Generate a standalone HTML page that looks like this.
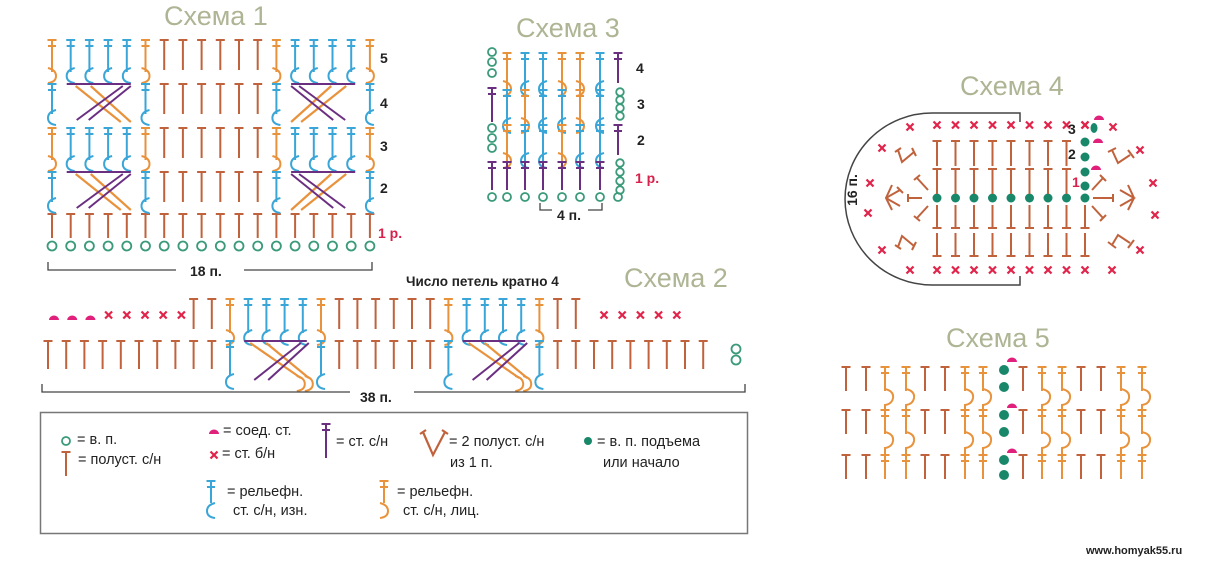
<!DOCTYPE html>
<html><head><meta charset="utf-8">
<style>
html,body{margin:0;padding:0;background:#fff;}
body{width:1214px;height:561px;overflow:hidden;position:relative;font-family:"Liberation Sans","DejaVu Sans",sans-serif;}
svg{position:absolute;left:0;top:0;}
.t{position:absolute;white-space:nowrap;}
.title{color:#adb594;font-size:27px;}
.lg{font-size:14.5px;color:#222;}
.b{font-weight:bold;font-size:14px;color:#222;}
</style></head>
<body>
<svg id="s" width="1214" height="561" viewBox="0 0 1214 561"></svg>

<div class="t title" style="left:164px;top:1px;">Схема 1</div>
<div class="t title" style="left:516px;top:13px;">Схема 3</div>
<div class="t title" style="left:960px;top:71px;">Схема 4</div>
<div class="t title" style="left:624px;top:263px;">Схема 2</div>
<div class="t title" style="left:946px;top:323px;">Схема 5</div>

<div class="t b" style="left:380px;top:50px;">5</div>
<div class="t b" style="left:380px;top:95px;">4</div>
<div class="t b" style="left:380px;top:138px;">3</div>
<div class="t b" style="left:380px;top:180px;">2</div>
<div class="t b" style="left:378px;top:225px;color:#d8204a;">1 р.</div>
<div class="t b" style="left:190px;top:263px;">18 п.</div>

<div class="t b" style="left:636px;top:60px;">4</div>
<div class="t b" style="left:637px;top:96px;">3</div>
<div class="t b" style="left:637px;top:132px;">2</div>
<div class="t b" style="left:635px;top:170px;color:#d8204a;">1 р.</div>
<div class="t b" style="left:557px;top:207px;">4 п.</div>

<div class="t b" style="left:1068px;top:121px;">3</div>
<div class="t b" style="left:1068px;top:146px;">2</div>
<div class="t b" style="left:1072px;top:174px;color:#d8204a;">1</div>
<div class="t b" style="left:836px;top:182px;transform:rotate(-90deg);">16 п.</div>

<div class="t b" style="left:406px;top:274px;font-size:13.5px;">Число петель кратно 4</div>
<div class="t b" style="left:360px;top:389px;">38 п.</div>

<div class="t lg" style="left:77px;top:432px;">= в. п.</div>
<div class="t lg" style="left:78px;top:452px;">= полуст. с/н</div>
<div class="t lg" style="left:223px;top:423px;">= соед. ст.</div>
<div class="t lg" style="left:222px;top:446px;">= ст. б/н</div>
<div class="t lg" style="left:336px;top:434px;">= ст. с/н</div>
<div class="t lg" style="left:449px;top:434px;">= 2 полуст. с/н</div>
<div class="t lg" style="left:450px;top:455px;">из 1 п.</div>
<div class="t lg" style="left:597px;top:434px;">= в. п. подъема</div>
<div class="t lg" style="left:603px;top:455px;">или начало</div>
<div class="t lg" style="left:227px;top:484px;">= рельефн.</div>
<div class="t lg" style="left:233px;top:503px;">ст. с/н, изн.</div>
<div class="t lg" style="left:397px;top:484px;">= рельефн.</div>
<div class="t lg" style="left:403px;top:503px;">ст. с/н, лиц.</div>

<div class="t" style="left:1086px;top:545px;font-size:11px;font-weight:bold;color:#222;">www.homyak55.ru</div>

<script>
var s=document.getElementById('s');var out='';
var BR='#c0623c',OR='#e9923c',BL='#3aa6d8',PU='#6b2f82',RD='#e0244a',GR='#3a9a7a',TE='#18876a',PK='#e0207a';
function line(x1,y1,x2,y2,c,w){out+='<line x1="'+x1+'" y1="'+y1+'" x2="'+x2+'" y2="'+y2+'" stroke="'+c+'" stroke-width="'+(w||2)+'"/>';}
function T(x,y,h,c){line(x,y,x,y+h,c);line(x-4.5,y,x+4.5,y,c);}
function Tinv(x,y,h,c){line(x,y,x,y+h,c);line(x-4.5,y+h,x+4.5,y+h,c);}
function TS(x,y,h,c){T(x,y,h,c);line(x-4,y+6,x+4,y+6,c);}
function circ(x,y,r,c){out+='<circle cx="'+x+'" cy="'+y+'" r="'+r+'" fill="none" stroke="'+c+'" stroke-width="1.8"/>';}
function dot(x,y,r,c){out+='<circle cx="'+x+'" cy="'+y+'" r="'+r+'" fill="'+c+'"/>';}
function X(x,y,c){line(x-3.5,y-3.5,x+3.5,y+3.5,c||RD,2.2);line(x-3.5,y+3.5,x+3.5,y-3.5,c||RD,2.2);}
function bump(x,y){out+='<path d="M'+(x-5)+' '+y+' A5 4.5 0 0 1 '+(x+5)+' '+y+' Z" fill="'+PK+'"/>';}
function path(d,c,w){out+='<path d="'+d+'" fill="none" stroke="'+c+'" stroke-width="'+(w||2)+'"/>';}
function hookL(x,y,c){path('M'+(x+4)+' '+y+' Q'+(x-4)+' '+(y+2)+' '+(x-4)+' '+(y+8)+' Q'+(x-4)+' '+(y+14)+' '+(x+4)+' '+(y+15),c);}
function hookR(x,y,c){path('M'+(x-4)+' '+y+' Q'+(x+4)+' '+(y+2)+' '+(x+4)+' '+(y+8)+' Q'+(x+4)+' '+(y+14)+' '+(x-4)+' '+(y+15),c);}

// ===== Scheme 1
var cx=[];for(var i=0;i<18;i++)cx.push(52+i*18.7);
var tops=[38,82,126,170,214];
for(i=0;i<18;i++)T(cx[i],214,24,BR);
for(i=0;i<18;i++)circ(cx[i],246,4.5,GR);
for(var r=0;r<4;r++){
 var y=tops[r];var odd=(r%2==0);
 for(i=6;i<12;i++)T(cx[i],y+2,30,BR);
 [[0,1],[12,-1]].forEach(function(b){
  var s0=b[0];
  for(var k=0;k<6;k++){
   var x=cx[s0+k];
   if(odd){
     var c=(k==0||k==5)?OR:BL;
     TS(x,y+2,32,c);
     if(c==BL)hookL(x,y+30,BL);else hookR(x,y+30,OR);
   } else {
     if(k==0||k==5){TS(x,y+2,30,BL);hookL(x,y+28,BL);}
   }
  }
  if(!odd){
   var a=cx[s0+1],d=cx[s0+4];
   line(cx[s0+1]-4,y+2,cx[s0+4]+4,y+2,PU,2);
   if(b[1]==1){
    line(a+5,y+4,d-6,y+40,OR,2.2);line(a+20,y+4,d+4,y+40,OR,2.2);
    line(d-4,y+4,a+6,y+38,PU,2);line(d+4,y+4,a+18,y+38,PU,2);
   } else {
    line(d-5,y+4,a+6,y+40,OR,2.2);line(d-20,y+4,a-4,y+40,OR,2.2);
    line(a+4,y+4,d-6,y+38,PU,2);line(a-4,y+4,d-18,y+38,PU,2);
   }
  }
 });
}
path('M48 262 L48 270 L176 270 M244 270 L372 270 L372 262','#444',1.3);

// ===== Scheme 2
var c2=[];for(i=0;i<38;i++)c2.push(48+i*18.2);
for(i=0;i<3;i++)bump(c2[i]+6,320);
for(i=3;i<8;i++)X(c2[i]+6,315);
for(i=30;i<35;i++)X(c2[i]+10,315);
for(i=8;i<30;i++){ if((i>=10&&i<=15)||(i>=22&&i<=27))continue; T(c2[i],299,30,BR);}
for(i=0;i<37;i++){ if((i>=10&&i<=15)||(i>=22&&i<=27))continue; T(c2[i],341,28,BR);}
circ(736,349,4.5,GR);circ(736,360,4.5,GR);
[10,22].forEach(function(s0){
 for(var k=0;k<6;k++){var x=c2[s0+k];var c=(k==0||k==5)?OR:BL;TS(x,299,34,c);if(c==BL)hookL(x,330,BL);else hookR(x,330,OR);}
 var x0=c2[s0],x5=c2[s0+5];
 TS(x0,341,34,BL);hookL(x0,374,BL);TS(x5,341,34,BL);hookL(x5,374,BL);
 var a=c2[s0+1],d=c2[s0+4];
 line(a-4,341,d+4,341,PU,2);
 line(a+2,343,d-2,378,OR,2.2);line(a+18,343,d+6,378,OR,2.2);
 hookR(d-2,376,OR);hookR(d+6,376,OR);
 line(d-2,343,a+6,380,PU,2);line(d+6,343,a+20,380,PU,2);
});
path('M42 384 L42 392 L350 392 M414 392 L745 392 L745 384','#444',1.3);

// ===== Scheme 3
var c3=[507,525,543,562,580,600];
[52,62,73].forEach(function(y){circ(492,y,4,GR);});
T(492,88,34,PU);line(488,94,496,94,PU);
[128,138,148].forEach(function(y){circ(492,y,4,GR);});
T(492,162,28,PU);line(488,168,496,168,PU);
T(618,53,30,PU);line(614,59,622,59,PU);
[92,100,108,116].forEach(function(y){circ(620,y,3.8,GR);});
T(618,125,30,PU);line(614,131,622,131,PU);
[163,172,181,190].forEach(function(y){circ(620,y,3.8,GR);});
[492,507,525,543,562,580,600,618].forEach(function(x){circ(x,197,4,GR);});
var pat=[[OR,BL,BL,OR,OR,BL],[BL,OR,BL,BL,OR,BL],[OR,BL,BL,OR,BL,BL]];
var r3=[53,90,125];
for(r=0;r<3;r++)for(i=0;i<6;i++){var c=pat[r][i];TS(c3[i],r3[r],36,c);if(c==BL)hookL(c3[i],r3[r]+28,BL);else hookR(c3[i],r3[r]+28,OR);}
for(i=0;i<6;i++){T(c3[i],162,28,PU);line(c3[i]-4,168,c3[i]+4,168,PU);}
path('M540 203 L540 210 L552 210 M588 210 L602 210 L602 203','#444',1.3);

// ===== Scheme 4
path('M1020 122 L1020 113 L932 113 A87 86 0 0 0 932 285 L1020 285 L1020 276','#444',1.5);
var c4=[];for(i=0;i<9;i++)c4.push(937+i*18.5);
for(i=0;i<9;i++){X(c4[i],125);X(c4[i],270);dot(c4[i],198,4.5,TE);
 if(i<8){T(c4[i],141,25,BR);T(c4[i],169,25,BR);}
 Tinv(c4[i],205,23,BR);Tinv(c4[i],233,23,BR);}
[142,157,172,186].forEach(function(y){dot(1085,y,4.5,TE);});
out+='<ellipse cx="1094" cy="128" rx="3.5" ry="5" fill="'+TE+'"/>';
bump(1099,120);bump(1098,143);bump(1096,170);
X(1085,125);
line(922,198,908,198,BR);line(908,194,908,202,BR);
line(928,190,917,178,BR);line(914,180,920,175,BR);
line(928,206,917,218,BR);line(914,216,920,221,BR);
path('M892 185 L886 198 L892 210',BR,2);
path('M886 198 L900 190 M897 187 L903 193 M886 198 L900 206',BR,2);
path('M898 150 L902 162 L914 152 M895 152 L901 148 M912 148 L916 156',BR,2);
path('M898 247 L902 236 L914 246 M895 245 L901 249 M912 250 L916 242',BR,2);
X(910,127);X(882,148);X(870,183);X(868,213);X(882,250);X(910,270);
line(1093,198,1113,198,BR);line(1113,194,1113,202,BR);
line(1092,190,1103,178,BR);line(1100,175,1106,181,BR);
line(1092,206,1103,218,BR);line(1100,221,1106,215,BR);
path('M1128 185 L1134 198 L1128 210 M1120 190 L1134 198 L1120 206',BR,2);
path('M1112 150 L1118 163 L1130 155 M1108 152 L1116 148 M1128 150 L1134 158',BR,2);
path('M1112 245 L1118 235 L1130 243 M1108 242 L1116 248 M1128 248 L1134 240',BR,2);
X(1113,127);X(1140,150);X(1153,183);X(1155,215);X(1140,250);X(1112,270);

// ===== Scheme 5
var c5=[[846,BR],[866,BR],[885,OR],[906,OR],[925,BR],[945,BR],[965,OR],[983,OR],[1023,BR],[1042,OR],[1062,OR],[1081,BR],[1101,BR],[1121,OR],[1142,OR]];
var r5=[367,410,455];
c5.forEach(function(p){
 r5.forEach(function(y,ri){
  if(p[1]==BR){T(p[0],y,24,BR);}
  else{TS(p[0],y,24,OR); if(ri<2){path('M'+p[0]+' '+(y+22)+' Q'+(p[0]+9)+' '+(y+24)+' '+(p[0]+8)+' '+(y+31)+' Q'+(p[0]+7)+' '+(y+37)+' '+p[0]+' '+(y+38)+' L'+p[0]+' '+(y+44),OR);}}
 });
});
[370,387,415,432,460,475].forEach(function(y){dot(1004,y,5,TE);});
bump(1012,362);bump(1012,408);bump(1012,453);

// ===== Legend
out+='<rect x="40.5" y="412.5" width="707" height="121" fill="none" stroke="#777" stroke-width="1.5"/>';
circ(66,441,4,GR);
T(66,452,24,BR);
bump(214,434);
X(214,455);
T(326,424,34,PU);line(322,430,330,430,PU);
path('M423 432 L433 455 L445 432 M420 434 L426 430 M442 430 L448 434',BR,2.2);
dot(588,441,4,TE);
TS(211,481,22,BL);hookL(211,503,BL);
TS(384,481,22,OR);hookR(384,503,OR);
s.innerHTML=out;
</script>
</body></html>
